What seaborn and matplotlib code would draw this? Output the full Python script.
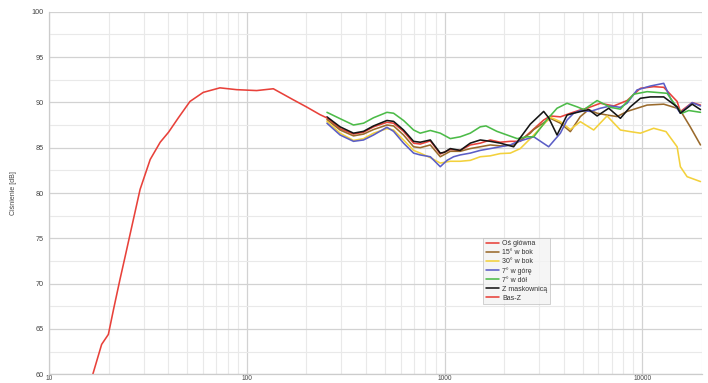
import matplotlib
matplotlib.use("Agg")
import matplotlib.pyplot as plt
import seaborn as sns
import numpy as np
import pandas as pd
from matplotlib.ticker import LogLocator, FixedLocator, NullFormatter

# ---------------- data ----------------
bas_f = [16.6, 18.4, 19.9, 21.2, 22.8, 24.2, 25.6, 28.8, 32.4, 36.4, 40.1, 45, 51.5, 60.1,
         73, 88.7, 112, 136, 171, 200, 234, 253]
bas_v = [60.0, 63.3, 64.4, 67.3, 70.5, 73.0, 75.4, 80.4, 83.7, 85.6, 86.7, 88.3, 90.1, 91.1,
         91.6, 91.4, 91.3, 91.5, 90.3, 89.5, 88.65, 88.3]

os_f = [254, 296, 346, 389, 437, 511, 552, 620, 697, 753, 847, 951, 1069, 1200, 1349, 1516,
        1703, 1914, 2151, 2416, 2614, 3173, 3429, 3855, 4329, 4863, 5258, 6141, 7178, 8385,
        9795, 11430, 12850, 15020, 15600, 17900, 19720]
os_v = [88.3, 87.1, 86.5, 86.7, 87.3, 87.8, 87.7, 86.8, 85.5, 85.4, 85.75, 84.3, 84.8, 84.7,
        85.3, 85.5, 85.85, 85.6, 85.7, 85.7, 86.4, 88.05, 88.5, 88.4, 88.8, 89.16, 89.35, 89.9,
        89.6, 90.2, 91.55, 91.73, 91.66, 90.1, 88.98, 89.97, 89.7]

b15_f = [254, 296, 346, 389, 437, 511, 552, 620, 697, 753, 847, 951, 1069, 1200, 1349, 1516,
         1703, 1914, 2236, 2716, 2826, 3429, 3855, 4329, 4863, 5360, 5913, 6640, 7460, 8385,
         9418, 10590, 12850, 15020, 15900, 17500, 19720]
b15_v = [88.1, 86.95, 86.3, 86.5, 87.0, 87.5, 87.4, 86.4, 85.1, 85.0, 85.3, 84.0, 84.6, 84.6,
         84.9, 85.1, 85.3, 85.2, 85.3, 86.6, 87.0, 88.24, 87.7, 86.77, 88.43, 89.2, 88.8, 88.6,
         88.43, 89.0, 89.35, 89.7, 89.8, 89.35, 88.8, 87.3, 85.3]

b30_f = [254, 296, 346, 389, 437, 511, 552, 620, 697, 753, 847, 951, 1069, 1200, 1349, 1516,
         1703, 1914, 2151, 2416, 2716, 2826, 3429, 3855, 4329, 4863, 5682, 6640, 7755, 8700,
         9795, 11430, 13200, 15020, 15600, 16870, 19720]
b30_v = [87.9, 86.6, 85.8, 86.0, 86.6, 87.1, 86.95, 85.85, 84.7, 84.4, 83.9, 83.3, 83.5, 83.5,
         83.6, 84.0, 84.1, 84.35, 84.4, 84.9, 86.0, 86.4, 88.35, 87.87, 87.0, 87.87, 86.95, 88.5,
         86.95, 86.77, 86.6, 87.14, 86.77, 85.1, 82.9, 81.8, 81.26]

g7_f = [254, 296, 346, 389, 437, 511, 552, 620, 697, 753, 847, 951, 1029, 1111, 1200, 1349,
        1516, 1703, 1914, 2151, 2300, 2826, 3363, 3855, 4166, 4500, 4863, 5466, 6141, 6902,
        7755, 8385, 9418, 10990, 12850, 14000, 15600, 17900, 19720]
g7_v = [87.7, 86.4, 85.7, 85.85, 86.4, 87.25, 86.8, 85.5, 84.4, 84.2, 84.0, 82.9, 83.6, 84.0,
        84.2, 84.4, 84.7, 84.9, 85.1, 85.3, 85.6, 86.2, 85.1, 86.6, 88.05, 88.8, 89.1, 89.0,
        89.35, 89.6, 89.45, 89.9, 91.37, 91.8, 92.1, 90.3, 88.8, 89.97, 89.6]

d7_f = [254, 296, 346, 389, 437, 511, 552, 620, 697, 753, 847, 951, 1069, 1200, 1349, 1516,
        1620, 1840, 2070, 2330, 2620, 2826, 3299, 3707, 4166, 4690, 5070, 5913, 6902, 7755,
        9061, 10590, 13360, 14500, 15900, 17200, 19720]
d7_v = [88.9, 88.2, 87.5, 87.7, 88.3, 88.9, 88.8, 88.0, 86.95, 86.6, 86.9, 86.6, 86.0, 86.2,
        86.6, 87.3, 87.4, 86.8, 86.4, 86.0, 86.2, 86.2, 88.1, 89.35, 89.9, 89.5, 89.2, 90.2,
        89.45, 89.25, 90.9, 91.18, 91.0, 89.9, 88.8, 89.1, 88.9]

zm_f = [254, 296, 346, 389, 437, 511, 552, 620, 697, 753, 847, 951, 1000, 1069, 1200, 1349,
        1516, 1703, 1914, 2236, 2716, 3173, 3363, 3707, 4166, 4500, 5360, 5913, 6770, 7755,
        8700, 9795, 10990, 12850, 15020, 15600, 17900, 19720]
zm_v = [88.4, 87.3, 86.6, 86.8, 87.4, 88.0, 87.9, 86.95, 85.7, 85.6, 85.85, 84.4, 84.5, 84.9,
        84.7, 85.5, 85.85, 85.7, 85.5, 85.1, 87.6, 89.0, 88.3, 86.4, 88.6, 88.8, 89.2, 88.5,
        89.35, 88.24, 89.5, 90.45, 90.6, 90.6, 89.5, 88.8, 89.8, 89.2]

labels = ["Oś główna", "15° w bok", "30° w bok", "7° w górę", "7° w dół", "Z maskownicą", "Bas-Z"]
colors = ["#e8413a", "#9a6a2c", "#f3d13c", "#5b5ec6", "#4cbb48", "#151515", "#e8413a"]
series = [(os_f, os_v), (b15_f, b15_v), (b30_f, b30_v), (g7_f, g7_v), (d7_f, d7_v),
          (zm_f, zm_v), (bas_f, bas_v)]

y_ticks = [60, 65, 70, 75, 80, 85, 90, 95, 100]
x_ticks = [10, 100, 1000, 10000]
x_ticklabels = ["10", "100", "1000", "10000"]

# ---------------- plot ----------------
sns.set_theme(style="white")
plt.rcParams["font.family"] = ["Liberation Sans", "DejaVu Sans"]

fig = plt.figure(figsize=(7.08, 3.83), dpi=100)
ax = fig.add_axes([49.3 / 708, 8.7 / 383, 652.4 / 708, 362.6 / 383])

for (f, v), lab, col in zip(series, labels, colors):
    df = pd.DataFrame({"f": f, "v": v})
    sns.lineplot(data=df, x="f", y="v", ax=ax, color=col, label=lab, linewidth=1.15,
                 sort=False, estimator=None)

ax.set_xscale("log")
ax.set_xlim(10, 20000)
ax.set_ylim(60, 100)

ax.set_xticks(x_ticks)
ax.set_xticklabels(x_ticklabels)
ax.xaxis.set_minor_locator(LogLocator(base=10, subs=np.arange(2, 10)))
ax.xaxis.set_minor_formatter(NullFormatter())
ax.set_yticks(y_ticks)
ax.yaxis.set_minor_locator(FixedLocator(np.arange(62.5, 100, 5)))

ax.grid(True, which="major", color="#d2d2d2", linewidth=0.9)
ax.grid(True, which="minor", color="#e9e9e9", linewidth=0.8)
ax.set_axisbelow(True)

ax.tick_params(axis="both", which="both", length=0, labelsize=5.2, colors="#444444")
ax.tick_params(axis="y", pad=4)
ax.tick_params(axis="x", pad=0.5, labelsize=4.8)

for s in ["top", "right"]:
    ax.spines[s].set_visible(False)
for s in ["left", "bottom"]:
    ax.spines[s].set_color("#cccccc")
    ax.spines[s].set_linewidth(0.9)

ax.set_xlabel("")
ax.set_ylabel("Ciśnienie [dB]", fontsize=5, color="#444444")
ax.yaxis.set_label_coords(-0.049, 0.5)

leg = ax.legend(loc="upper left", bbox_to_anchor=(0.665, 0.376), borderaxespad=0,
                fontsize=5, frameon=True, fancybox=False, handlelength=1.9,
                handletextpad=0.5, labelspacing=0.28, borderpad=0.35)
leg.get_frame().set_facecolor("#f3f3f3")
leg.get_frame().set_edgecolor("#bdbdbd")
leg.get_frame().set_linewidth(0.6)
for t in leg.get_texts():
    t.set_color("#333333")

fig.savefig("out.png", dpi=100)
